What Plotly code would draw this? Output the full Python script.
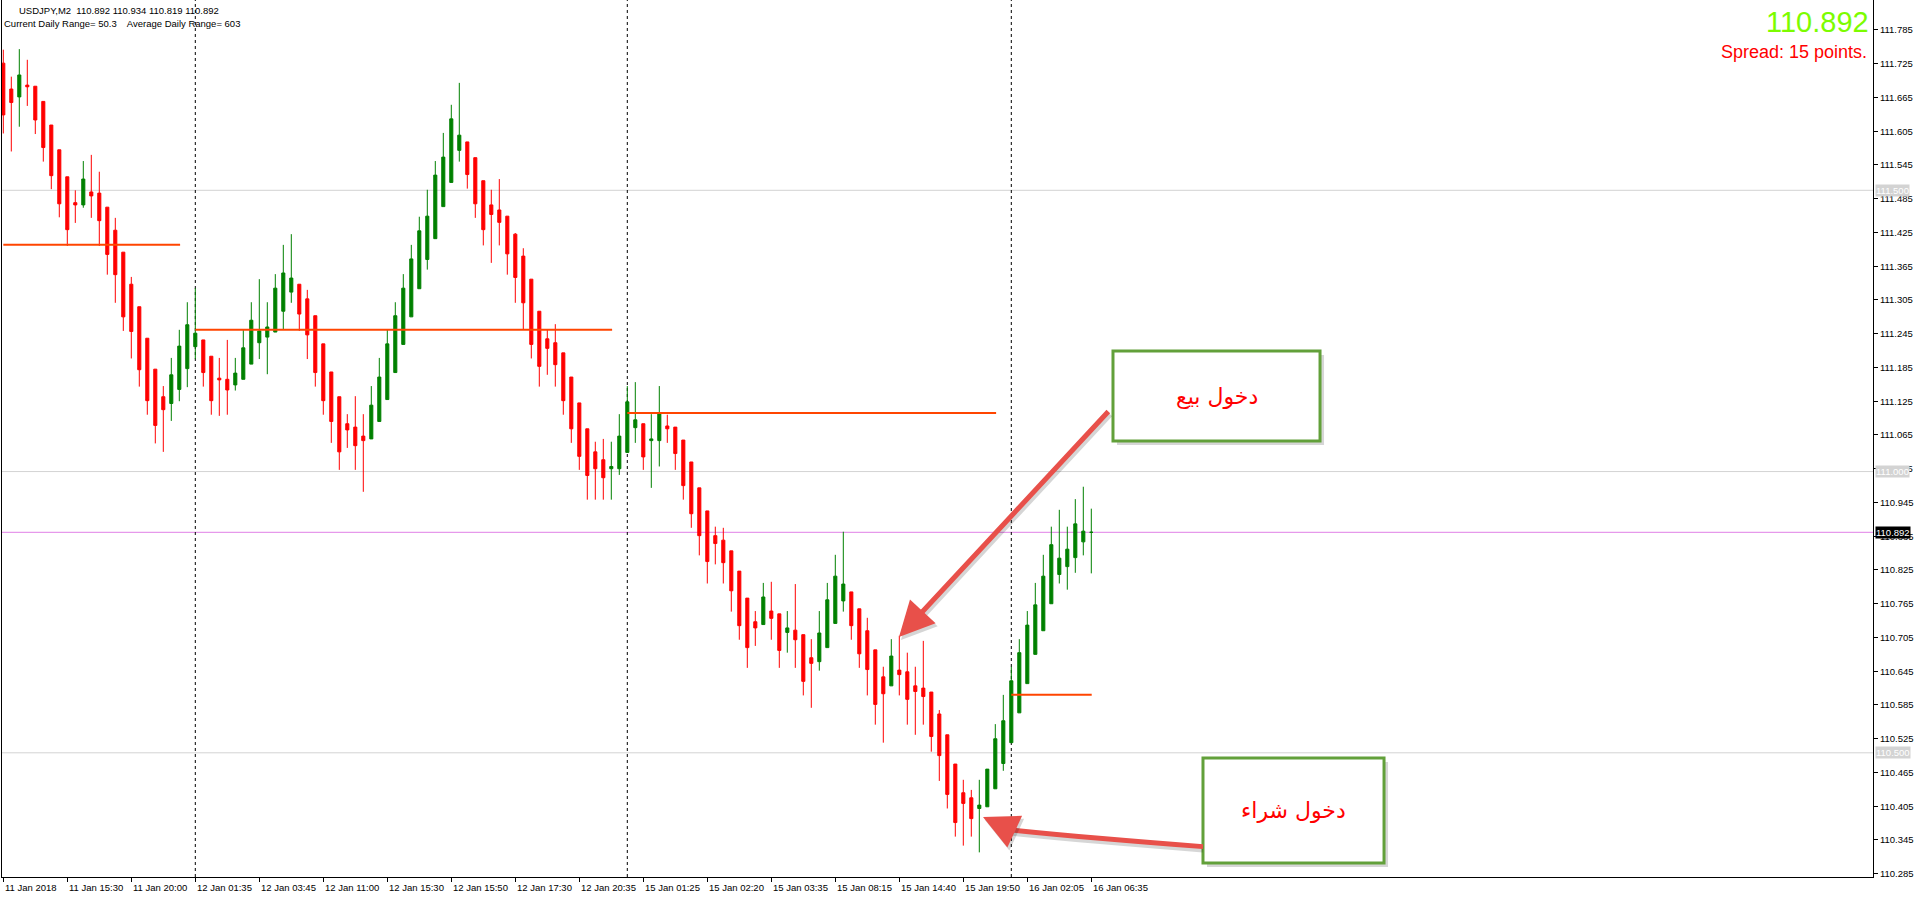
import plotly.graph_objects as go

# ---------------- data ----------------
opens = [111.726, 111.680, 111.666, 111.687, 111.685, 111.658, 111.616, 111.572, 111.524, 111.478,
         111.474, 111.497, 111.495, 111.470, 111.429, 111.390, 111.333, 111.293, 111.237, 111.182,
         111.133, 111.121, 111.146, 111.183, 111.222, 111.234, 111.205, 111.166, 111.164, 111.154,
         111.164, 111.191, 111.229, 111.239, 111.248, 111.285, 111.319, 111.333, 111.307, 111.277,
         111.227, 111.177, 111.133, 111.085, 111.079, 111.063, 111.058, 111.089, 111.128, 111.176,
         111.226, 111.275, 111.325, 111.377, 111.414, 111.471, 111.514, 111.571, 111.586, 111.558,
         111.517, 111.474, 111.465, 111.454, 111.422, 111.383, 111.342, 111.285, 111.236, 111.229,
         111.211, 111.168, 111.122, 111.076, 111.035, 111.021, 111.005, 111.005, 111.034, 111.078,
         111.085, 111.055, 111.055, 111.081, 111.079, 111.056, 111.017, 110.971, 110.930, 110.886,
         110.878, 110.859, 110.823, 110.775, 110.733, 110.728, 110.752, 110.747, 110.714, 110.718,
         110.710, 110.669, 110.662, 110.687, 110.730, 110.770, 110.786, 110.756, 110.717, 110.683,
         110.635, 110.619, 110.647, 110.644, 110.619, 110.615, 110.608, 110.569, 110.532, 110.480,
         110.429, 110.420, 110.401, 110.404, 110.436, 110.481, 110.518, 110.571, 110.623, 110.675,
         110.717, 110.765, 110.817, 110.831, 110.847, 110.875, 110.892]
highs = [111.750, 111.702, 111.751, 111.732, 111.685, 111.658, 111.616, 111.572, 111.524, 111.500,
         111.552, 111.563, 111.533, 111.470, 111.451, 111.390, 111.346, 111.293, 111.237, 111.182,
         111.152, 111.202, 111.252, 111.301, 111.326, 111.234, 111.205, 111.202, 111.234, 111.202,
         111.252, 111.301, 111.342, 111.301, 111.351, 111.403, 111.422, 111.333, 111.323, 111.277,
         111.227, 111.177, 111.133, 111.102, 111.134, 111.102, 111.152, 111.202, 111.252, 111.301,
         111.351, 111.403, 111.453, 111.501, 111.552, 111.602, 111.652, 111.691, 111.586, 111.558,
         111.517, 111.501, 111.520, 111.454, 111.424, 111.397, 111.342, 111.285, 111.252, 111.262,
         111.211, 111.168, 111.122, 111.076, 111.053, 111.058, 111.053, 111.102, 111.152, 111.159,
         111.085, 111.102, 111.152, 111.101, 111.079, 111.056, 111.017, 110.971, 110.930, 110.902,
         110.900, 110.859, 110.823, 110.775, 110.752, 110.802, 110.804, 110.747, 110.752, 110.800,
         110.710, 110.702, 110.752, 110.802, 110.852, 110.893, 110.786, 110.756, 110.740, 110.683,
         110.653, 110.702, 110.708, 110.678, 110.653, 110.699, 110.608, 110.576, 110.532, 110.480,
         110.452, 110.434, 110.452, 110.471, 110.551, 110.603, 110.653, 110.702, 110.752, 110.802,
         110.852, 110.902, 110.932, 110.902, 110.951, 110.973, 110.934]
lows = [111.601, 111.569, 111.613, 111.650, 111.600, 111.551, 111.502, 111.452, 111.401, 111.442,
        111.469, 111.451, 111.401, 111.350, 111.300, 111.250, 111.201, 111.151, 111.101, 111.050,
        111.035, 111.090, 111.125, 111.150, 111.200, 111.151, 111.101, 111.099, 111.101, 111.144,
        111.164, 111.191, 111.200, 111.173, 111.248, 111.253, 111.300, 111.250, 111.200, 111.151,
        111.101, 111.051, 111.003, 111.042, 111.003, 110.964, 111.058, 111.089, 111.128, 111.176,
        111.226, 111.275, 111.325, 111.359, 111.414, 111.471, 111.514, 111.551, 111.503, 111.451,
        111.402, 111.371, 111.402, 111.350, 111.300, 111.252, 111.201, 111.151, 111.172, 111.151,
        111.101, 111.051, 111.003, 110.950, 110.950, 110.950, 110.950, 110.994, 111.034, 111.051,
        111.003, 110.971, 111.009, 111.051, 111.003, 110.950, 110.900, 110.851, 110.801, 110.835,
        110.801, 110.751, 110.701, 110.651, 110.690, 110.728, 110.701, 110.651, 110.678, 110.651,
        110.602, 110.580, 110.646, 110.687, 110.730, 110.751, 110.701, 110.651, 110.602, 110.550,
        110.518, 110.619, 110.602, 110.550, 110.532, 110.550, 110.502, 110.450, 110.401, 110.351,
        110.335, 110.351, 110.323, 110.404, 110.436, 110.468, 110.518, 110.571, 110.623, 110.675,
        110.717, 110.765, 110.801, 110.790, 110.820, 110.851, 110.819]
closes = [111.634, 111.656, 111.705, 111.684, 111.625, 111.576, 111.526, 111.476, 111.430, 111.474,
          111.520, 111.490, 111.446, 111.386, 111.350, 111.275, 111.249, 111.181, 111.126, 111.082,
          111.110, 111.172, 111.223, 111.261, 111.246, 111.176, 111.126, 111.163, 111.145, 111.175,
          111.220, 111.269, 111.250, 111.257, 111.326, 111.353, 111.344, 111.280, 111.243, 111.176,
          111.126, 111.089, 111.035, 111.074, 111.046, 111.055, 111.118, 111.168, 111.227, 111.277,
          111.326, 111.378, 111.428, 111.454, 111.527, 111.559, 111.627, 111.598, 111.528, 111.476,
          111.430, 111.457, 111.443, 111.387, 111.345, 111.300, 111.226, 111.187, 111.219, 111.190,
          111.126, 111.076, 111.027, 110.993, 111.005, 110.989, 111.009, 111.063, 111.124, 111.092,
          111.026, 111.058, 111.104, 111.076, 111.032, 110.975, 110.925, 110.886, 110.840, 110.872,
          110.838, 110.788, 110.726, 110.687, 110.722, 110.777, 110.739, 110.682, 110.722, 110.701,
          110.627, 110.659, 110.713, 110.772, 110.814, 110.800, 110.726, 110.676, 110.648, 110.586,
          110.605, 110.672, 110.639, 110.595, 110.609, 110.600, 110.529, 110.495, 110.426, 110.376,
          110.410, 110.383, 110.407, 110.471, 110.525, 110.557, 110.628, 110.678, 110.727, 110.763,
          110.814, 110.870, 110.846, 110.862, 110.907, 110.894, 110.892]
# last candle is an unchanged (open == close) bar drawn as bullish in the terminal
bullish = [c >= o for o, c in zip(opens, closes)]
bullish[-1] = True

x_tick_idx = [0, 8, 16, 24, 32, 40, 48, 56, 64, 72, 80, 88, 96, 104, 112, 120, 128, 136]
x_tick_labels = ["11 Jan 2018", "11 Jan 15:30", "11 Jan 20:00", "12 Jan 01:35", "12 Jan 03:45",
                 "12 Jan 11:00", "12 Jan 15:30", "12 Jan 15:50", "12 Jan 17:30", "12 Jan 20:35",
                 "15 Jan 01:25", "15 Jan 02:20", "15 Jan 03:35", "15 Jan 08:15", "15 Jan 14:40",
                 "15 Jan 19:50", "16 Jan 02:05", "16 Jan 06:35"]
y_ticks = [111.785, 111.725, 111.665, 111.605, 111.545, 111.485, 111.425, 111.365, 111.305,
           111.245, 111.185, 111.125, 111.065, 111.005, 110.945, 110.885, 110.825, 110.765,
           110.705, 110.645, 110.585, 110.525, 110.465, 110.405, 110.345, 110.285]
round_levels = [111.500, 111.000, 110.500]
bid_price = 110.892
day_separators = [24, 78, 126]
level_start = [0, 24, 78, 126]
level_end = [22.1, 76.1, 124.1, 136.05]
level_price = [111.403, 111.252, 111.104, 110.603]

symbol_line = "USDJPY,M2  110.892 110.934 110.819 110.892"
range_line = "Current Daily Range= 50.3    Average Daily Range= 603"
big_price = "110.892"
spread_text = "Spread: 15 points."
sell_text = "دخول بيع"
buy_text = "دخول شراء"

# ---------------- styles ----------------
GREEN = "#008000"
RED = "#FF0000"
ORANGE = "#FF4500"
ARROW = "#E8504A"
SHADOW = "rgba(0,0,0,0.16)"
BOXLINE = "#62A03A"
TICKFONT = dict(family="Liberation Sans, Arial", size=9.5, color="black")

fig = go.Figure()

for want, col in ((True, GREEN), (False, RED)):
    idx = [i for i in range(len(opens)) if bullish[i] == want]
    fig.add_trace(go.Candlestick(
        x=idx,
        open=[opens[i] for i in idx], high=[highs[i] for i in idx],
        low=[lows[i] for i in idx], close=[closes[i] for i in idx],
        increasing=dict(line=dict(color=col, width=1), fillcolor=col),
        decreasing=dict(line=dict(color=col, width=1), fillcolor=col),
        whiskerwidth=0, showlegend=False, hoverinfo="skip"))

shapes = []
for lv in round_levels:
    shapes.append(dict(type="line", xref="paper", x0=0, x1=1, yref="y", y0=lv, y1=lv,
                       line=dict(color="#D3D3D3", width=1), layer="below"))
shapes.append(dict(type="line", xref="paper", x0=0, x1=1, yref="y", y0=bid_price, y1=bid_price,
                   line=dict(color="#E080E6", width=1), layer="below"))
for d in day_separators:
    shapes.append(dict(type="line", xref="x", x0=d, x1=d, yref="paper", y0=0, y1=1,
                       line=dict(color="black", width=1, dash="3px,3px"), layer="below"))
for s, e, p in zip(level_start, level_end, level_price):
    shapes.append(dict(type="line", xref="x", x0=s, x1=e, yref="y", y0=p, y1=p,
                       line=dict(color=ORANGE, width=2)))

# annotation boxes (with soft shadow)
boxes = [(138.71, 164.59, 111.0543, 111.2143), (149.96, 172.59, 110.3041, 110.4908)]
for x0, x1, y0, y1 in boxes:
    shapes.append(dict(type="rect", xref="x", yref="y", x0=x0 + 0.5, x1=x1 + 0.5,
                       y0=y0 - 0.007, y1=y1 - 0.007, line=dict(width=0), fillcolor=SHADOW))
    shapes.append(dict(type="rect", xref="x", yref="y", x0=x0, x1=x1, y0=y0, y1=y1,
                       line=dict(color=BOXLINE, width=3), fillcolor="white"))

# curved buy arrow body (shadow + line)
shapes.append(dict(type="path", xref="x", yref="y",
                   path="M 149.96,110.3282 Q 135.84,110.3436 125.96,110.3578",
                   line=dict(color=SHADOW, width=6)))
shapes.append(dict(type="path", xref="x", yref="y",
                   path="M 149.96,110.3332 Q 135.84,110.3486 125.96,110.3628",
                   line=dict(color=ARROW, width=5)))

annotations = []
for i, lab in zip(x_tick_idx, x_tick_labels):
    annotations.append(dict(xref="x", x=i, yref="paper", y=0, xanchor="left", yanchor="top",
                            text=lab, showarrow=False, xshift=0, yshift=-3, font=TICKFONT))
for lv in round_levels:
    annotations.append(dict(xref="paper", x=1, yref="y", y=lv, xanchor="left", yanchor="middle",
                            text=f"{lv:.3f}", showarrow=False, xshift=2, bgcolor="#D3D3D3",
                            borderpad=0, font=dict(family="Liberation Sans, Arial", size=9.5,
                                                   color="white")))
annotations.append(dict(xref="paper", x=1, yref="y", y=bid_price, xanchor="left",
                        yanchor="middle", text=f"{bid_price:.3f}", showarrow=False, xshift=2,
                        bgcolor="black", borderpad=0,
                        font=dict(family="Liberation Sans, Arial", size=9.5, color="white")))
annotations += [
    dict(xref="paper", x=0, yref="paper", y=1, xanchor="left", yanchor="middle",
         text=symbol_line, showarrow=False, xshift=15, yshift=-10, font=TICKFONT),
    dict(xref="paper", x=0, yref="paper", y=1, xanchor="left", yanchor="middle",
         text=range_line, showarrow=False, xshift=0, yshift=-23, font=TICKFONT),
    dict(xref="paper", x=1, yref="paper", y=1, xanchor="right", yanchor="middle",
         text=big_price, showarrow=False, xshift=-2, yshift=-22,
         font=dict(family="Liberation Sans, Arial", size=29, color="#7CFC00")),
    dict(xref="paper", x=1, yref="paper", y=1, xanchor="right", yanchor="middle",
         text=spread_text, showarrow=False, xshift=-4, yshift=-52,
         font=dict(family="Liberation Sans, Arial", size=18, color=RED)),
    dict(xref="x", x=151.65, yref="y", y=111.1343, text=sell_text, showarrow=False,
         font=dict(family="DejaVu Sans", size=22, color=RED)),
    dict(xref="x", x=161.3, yref="y", y=110.3974, text=buy_text, showarrow=False,
         font=dict(family="DejaVu Sans", size=22, color=RED)),
]
# arrows: shadow first, then the red arrow on top
for col, dx, dy in ((SHADOW, 2, -3), (ARROW, 0, 0)):
    annotations.append(dict(xref="x", yref="y", x=111.96, y=110.7059, axref="x", ayref="y",
                            ax=138.3, ay=111.1094, text="", showarrow=True, arrowhead=2,
                            arrowsize=1.4, arrowwidth=5, arrowcolor=col, standoff=0,
                            xshift=dx, yshift=dy))
    annotations.append(dict(xref="x", yref="y", x=122.46, y=110.3859, axref="x", ayref="y",
                            ax=125.96, ay=110.3628, text="", showarrow=True, arrowhead=2,
                            arrowsize=1.4, arrowwidth=5, arrowcolor=col, standoff=0,
                            xshift=dx, yshift=dy))

fig.update_layout(
    width=1916, height=897,
    margin=dict(l=2, r=43, t=0, b=20),
    paper_bgcolor="white", plot_bgcolor="white",
    showlegend=False, boxgap=0.45,
    shapes=shapes, annotations=annotations,
    xaxis=dict(range=[-0.1625, 233.71], showgrid=False, zeroline=False, showline=True,
               linecolor="black", linewidth=1, ticks="outside", ticklen=4, tickcolor="black",
               tickvals=x_tick_idx, showticklabels=False, rangeslider=dict(visible=False),
               fixedrange=True),
    yaxis=dict(side="right", range=[110.2792, 111.8383], tickvals=y_ticks,
               ticktext=[f"{v:.3f}" for v in y_ticks], ticks="outside", ticklen=4,
               tickcolor="black", showline=True, mirror=True, linecolor="black", linewidth=1,
               showgrid=False, zeroline=False, tickfont=TICKFONT, fixedrange=True),
)

fig.write_html("out.html",
               config={"displayModeBar": False},
               post_script="document.body.style.margin='0px';"
                           "document.body.style.overflow='hidden';")
